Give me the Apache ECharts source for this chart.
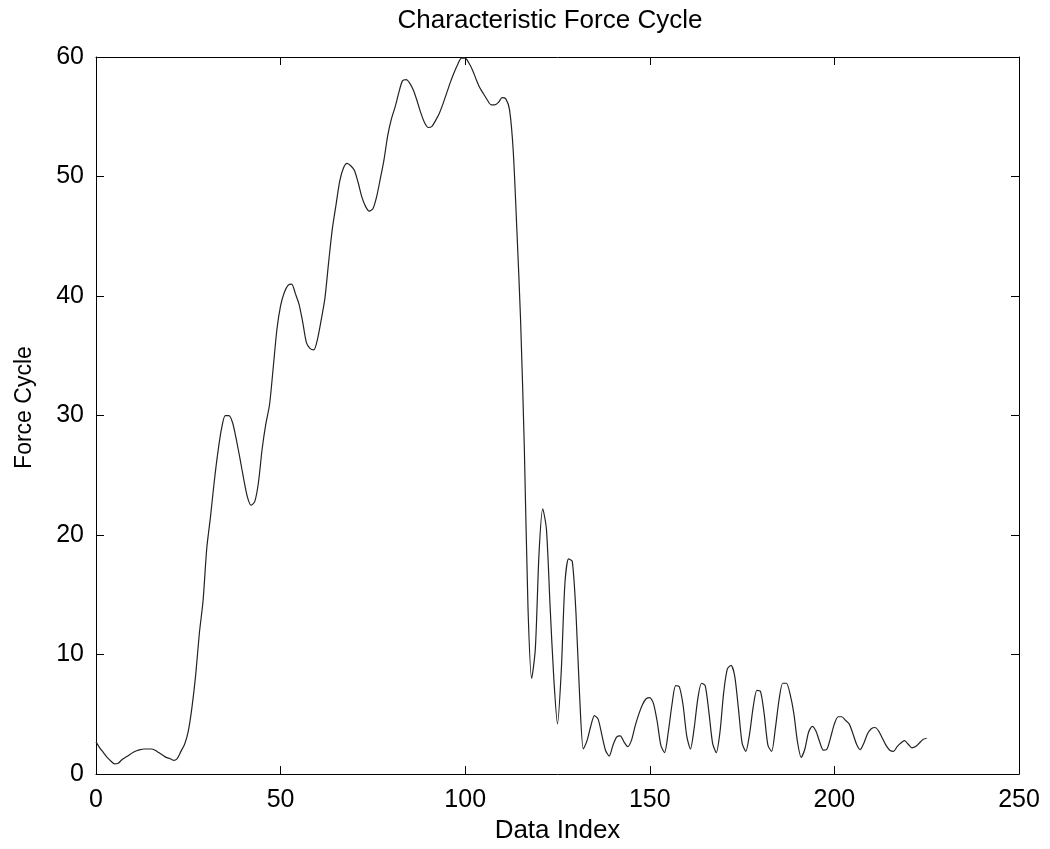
<!DOCTYPE html>
<html>
<head>
<meta charset="utf-8">
<script src="https://cdn.jsdelivr.net/npm/echarts@6/dist/echarts.min.js"></script>
<style>
html,body{margin:0;padding:0;background:#fff;}
#chart{width:1050px;height:849px;}
</style>
</head>
<body>
<div id="chart"></div>
<script>
const titleText = 'Characteristic Force Cycle';
const xAxisName = 'Data Index';
const yAxisName = 'Force Cycle';
const xTicks = [0, 50, 100, 150, 200, 250];
const yTicks = [0, 10, 20, 30, 40, 50, 60];

const dataIndex = [
  0,1,2,3,4,5,6,7,8,9,10,11,12,13,14,15,16,17,18,19,20,21,22,23,24,25,26,27,28,29,
  30,31,32,33,34,35,36,37,38,39,40,41,42,43,44,45,46,47,48,49,50,51,52,53,54,55,56,57,58,59,
  60,61,62,63,64,65,66,67,68,69,70,71,72,73,74,75,76,77,78,79,80,81,82,83,84,85,86,87,88,89,
  90,91,92,93,94,95,96,97,98,99,100,101,102,103,104,105,106,107,108,109,110,111,112,113,114,115,116,117,118,119,
  120,121,122,123,124,125,126,127,128,129,130,131,132,133,134,135,136,137,138,139,140,141,142,143,144,145,146,147,148,149,
  150,151,152,153,154,155,156,157,158,159,160,161,162,163,164,165,166,167,168,169,170,171,172,173,174,175,176,177,178,179,
  180,181,182,183,184,185,186,187,188,189,190,191,192,193,194,195,196,197,198,199,200,201,202,203,204,205,206,207,208,209,
  210,211,212,213,214,215,216,217,218,219,220,221,222,223,224,225
];
const forceCycle = [
  2.7,2.2,1.8,1.4,1.1,0.85,0.9,1.2,1.4,1.6,1.8,1.95,2.05,2.1,2.1,2.1,2.0,1.8,1.6,1.4,1.3,1.15,1.3,1.9,2.5,3.6,5.6,8.3,11.8,14.5,
  18.9,21.5,24.4,26.9,28.9,30.0,30.0,29.4,28.0,26.4,24.7,23.2,22.5,22.8,24.4,27.2,29.3,30.9,34.0,37.2,39.2,40.3,40.9,41.0,40.2,39.3,37.8,36.1,35.6,35.5,
  36.4,38.0,39.8,42.8,45.6,47.6,49.6,50.7,51.1,50.9,50.5,49.5,48.3,47.5,47.1,47.3,48.3,49.8,51.4,53.4,54.8,55.8,57.0,58.0,58.1,57.8,57.2,56.3,55.3,54.5,
  54.1,54.2,54.7,55.3,56.1,57.0,57.9,58.7,59.4,59.9,59.9,59.5,58.9,58.1,57.4,56.9,56.4,56.0,56.0,56.2,56.6,56.5,55.6,52.2,45.5,38.0,27.5,14.0,8.0,10.5,
  18.5,22.2,20.5,14.0,8.0,4.2,8.5,15.9,18.0,17.8,13.5,6.5,2.1,2.8,4.0,4.9,4.6,3.3,2.0,1.5,2.4,3.1,3.2,2.7,2.3,2.8,4.0,5.0,5.8,6.3,
  6.4,5.9,4.4,2.4,1.8,3.5,5.8,7.4,7.3,5.8,3.2,2.1,3.8,6.3,7.6,7.4,5.2,2.6,1.8,3.5,6.8,8.8,9.1,8.2,5.5,2.6,1.9,3.3,5.6,7.0,
  6.9,5.0,2.4,1.9,3.8,6.2,7.6,7.6,6.7,5.1,2.7,1.4,2.1,3.5,4.0,3.6,2.7,2.0,2.1,3.1,4.2,4.8,4.8,4.5,4.2,3.4,2.5,2.05,2.6,3.4,
  3.8,3.9,3.6,3.0,2.4,2.0,1.9,2.3,2.6,2.8,2.5,2.2,2.3,2.6,2.9,3.0
];

const seriesData = dataIndex.map((x, i) => [x, forceCycle[i]]);
const FONT = '"Liberation Sans", Arial, Helvetica, sans-serif';

const chart = echarts.init(document.getElementById('chart'), null, {renderer: 'canvas'});

function axisCommon(extra) {
  return Object.assign({
    type: 'value',
    axisLine: {show: true, onZero: false, lineStyle: {color: '#000', width: 1}},
    axisTick: {show: true, inside: true, length: 8, lineStyle: {color: '#000', width: 1}},
    splitLine: {show: false},
    axisLabel: {show: false}
  }, extra);
}

const option = {
  animation: false,
  backgroundColor: '#fff',
  title: {
    text: titleText,
    left: 545,
    top: 3,
    textAlign: 'center',
    textStyle: {fontFamily: FONT, fontSize: 26, fontWeight: 'normal', color: '#000'}
  },
  grid: {left: 96, right: 31, top: 57, bottom: 71, containLabel: false},
  xAxis: [
    axisCommon({
      position: 'bottom',
      min: xTicks[0], max: xTicks[xTicks.length - 1], interval: xTicks[1] - xTicks[0],
      name: xAxisName,
      nameLocation: 'middle',
      nameGap: 34,
      nameTextStyle: {fontFamily: FONT, fontSize: 26, color: '#000'},
      axisLabel: {show: true, margin: 14, fontFamily: FONT, fontSize: 25, color: '#000'}
    }),
    axisCommon({
      position: 'top',
      min: xTicks[0], max: xTicks[xTicks.length - 1], interval: xTicks[1] - xTicks[0]
    })
  ],
  yAxis: [
    axisCommon({
      position: 'left',
      min: yTicks[0], max: yTicks[yTicks.length - 1], interval: yTicks[1] - yTicks[0],
      name: yAxisName,
      nameLocation: 'middle',
      nameGap: 60,
      nameRotate: 90,
      nameTextStyle: {fontFamily: FONT, fontSize: 23, color: '#000', padding: [0, 0, 0, 16]},
      axisLabel: {show: true, margin: 12, fontFamily: FONT, fontSize: 25, color: '#000'}
    }),
    axisCommon({
      position: 'right',
      min: yTicks[0], max: yTicks[yTicks.length - 1], interval: yTicks[1] - yTicks[0]
    })
  ],
  series: [{
    type: 'line',
    xAxisIndex: 0,
    yAxisIndex: 0,
    data: seriesData,
    showSymbol: false,
    symbol: 'none',
    smooth: 0.25,
    lineStyle: {color: '#222', width: 1.2}
  }]
};

chart.setOption(option);
</script>
</body>
</html>
